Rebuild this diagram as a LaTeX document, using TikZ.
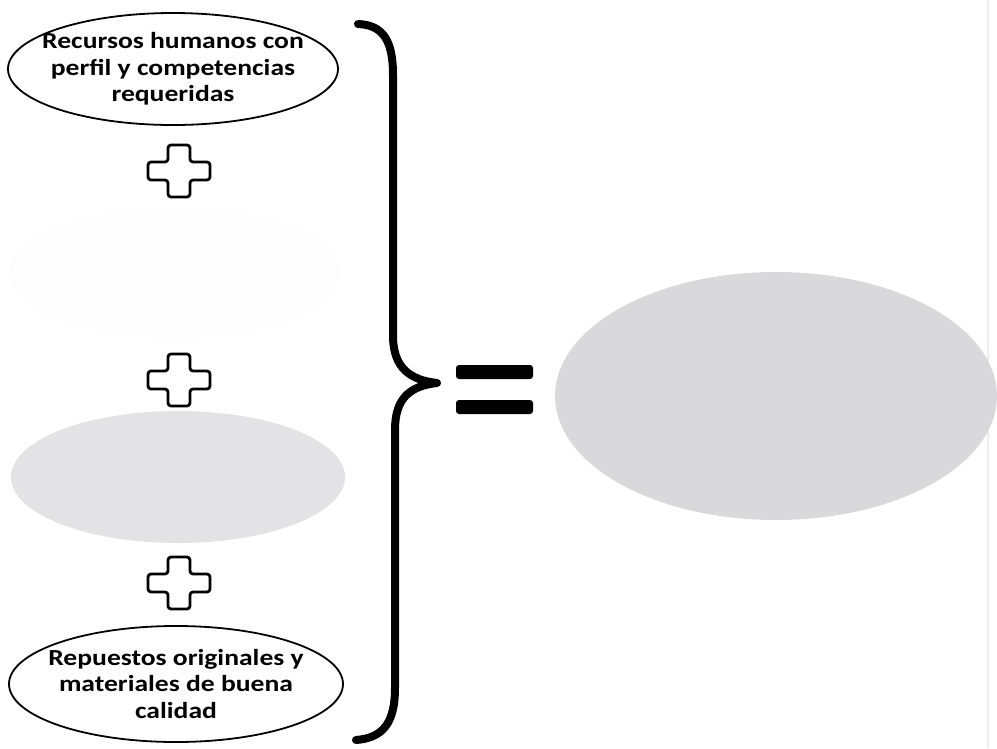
\documentclass[tikz,border=0pt]{standalone}
\usepackage{fontspec}
\setmainfont{Carlito}[FakeStretch=1.2]
\usetikzlibrary{shapes.geometric}
\definecolor{lightfill}{HTML}{E3E3E5}
\definecolor{midfill}{HTML}{D9D9DB}
\definecolor{ghost}{HTML}{FDFDFD}
\definecolor{edgeline}{HTML}{F3EBF1}
\tikzset{
  oval/.style={ellipse, draw=black, line width=1.8pt, fill=white, inner sep=0pt},
  ovaltext/.style={align=center, inner sep=0pt, font=\bfseries\fontsize{23}{26.5}\selectfont},
  greyoval/.style={ellipse, draw=none, inner sep=0pt},
  plusmark/.style={draw=black, line width=2.8pt, fill=white, rounded corners=3pt, line join=round},
  bracestroke/.style={line width=8pt, line cap=round, line join=round},
  eqbar/.style={fill=black, rounded corners=3pt},
}
\begin{document}
\begin{tikzpicture}[x=1pt, y=-1pt]
\useasboundingbox (0,0) rectangle (997,748);
\fill[white] (0,0) rectangle (997,748);
% faint scan edge on the right
\draw[edgeline, line width=2pt] (988,0) -- (988,748);

% left column of terms
\node[oval, minimum width=330, minimum height=112] (hr) at (173,69) {};
\node[ovaltext] (hrtext) at (hr.center) {Recursos humanos con\\perfil y competencias\\requeridas};
\node[greyoval, fill=ghost, minimum width=330, minimum height=132] (ghostoval) at (175,273) {};
\node[greyoval, fill=lightfill, minimum width=334, minimum height=132] (midoval) at (178,477) {};
\node[oval, minimum width=334, minimum height=116] (parts) at (176,684) {};
\node[ovaltext] (partstext) at (parts.center) {Repuestos originales y\\materiales de buena\\calidad};

% plus signs between the terms
\foreach \n/\cy in {p1/171, p2/380, p3/583}{
  \coordinate (\n) at (179,\cy);
  \draw[plusmark] ([shift={(-11,-26)}]\n) -- ([shift={(11,-26)}]\n) -- ([shift={(11,-9)}]\n)
    -- ([shift={(31,-9)}]\n) -- ([shift={(31,9)}]\n) -- ([shift={(11,9)}]\n)
    -- ([shift={(11,26)}]\n) -- ([shift={(-11,26)}]\n) -- ([shift={(-11,9)}]\n)
    -- ([shift={(-31,9)}]\n) -- ([shift={(-31,-9)}]\n) -- ([shift={(-11,-9)}]\n) -- cycle;
}

% curly brace gathering the terms
\coordinate (btop) at (358,24);
\coordinate (btip) at (437,383);
\coordinate (bbot) at (356,740);
\draw[bracestroke] (btop) .. controls (384,25) and (393,42) .. (393,75)
  -- (393,338) .. controls (394,368) and (410,380) .. (btip)
  .. controls (410,386) and (395,398) .. (395,430)
  -- (395,688) .. controls (395,724) and (382,738) .. (bbot);

% equals sign
\path[eqbar] (456,365) rectangle (533,379);
\path[eqbar] (456,400) rectangle (533,414);
\coordinate (eq) at (494,390);

% result
\node[greyoval, fill=midfill, minimum width=442, minimum height=248] (result) at (776,396) {};
\end{tikzpicture}
\end{document}
